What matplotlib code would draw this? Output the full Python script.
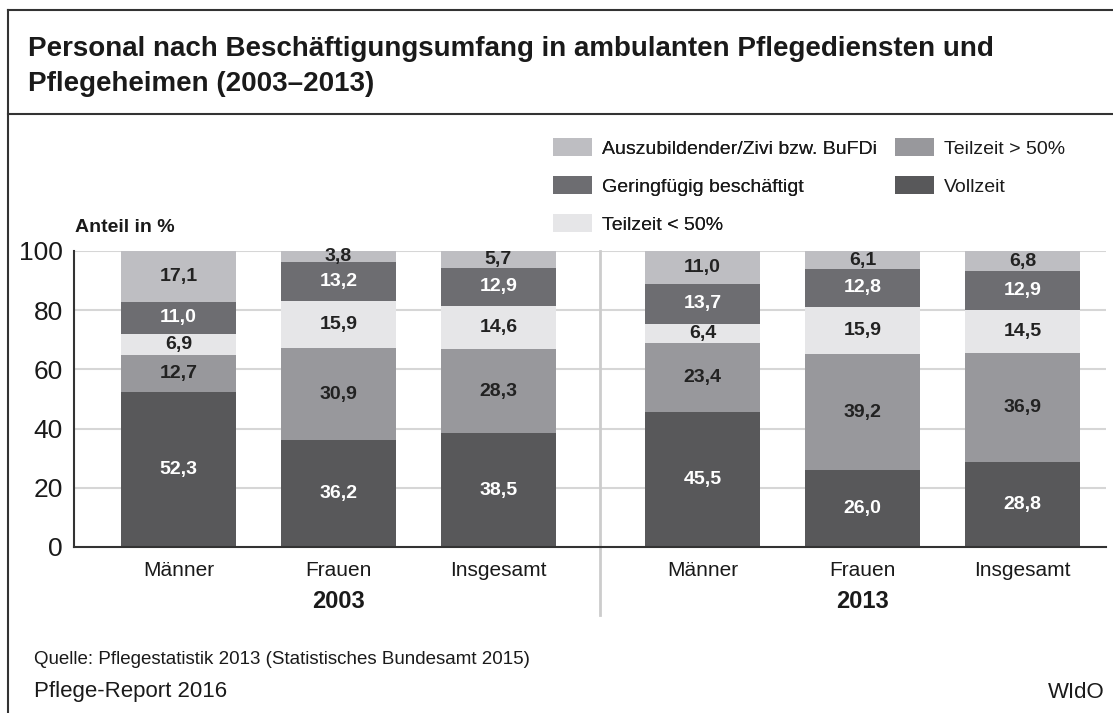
import numpy as np
import matplotlib
matplotlib.use("Agg")
import matplotlib.pyplot as plt
from matplotlib.lines import Line2D

plt.rcParams['font.family'] = ['Liberation Sans Narrow', 'Liberation Sans', 'DejaVu Sans']

# data (Anteil in %)
categories = ['Männer', 'Frauen', 'Insgesamt', 'Männer', 'Frauen', 'Insgesamt']
years = ['2003', '2013']
vollzeit = [52.3, 36.2, 38.5, 45.5, 26.0, 28.8]
teilzeit_gt50 = [12.7, 30.9, 28.3, 23.4, 39.2, 36.9]
teilzeit_lt50 = [6.9, 15.9, 14.6, 6.4, 15.9, 14.5]
geringfuegig = [11.0, 13.2, 12.9, 13.7, 12.8, 12.9]
auszubildende = [17.1, 3.8, 5.7, 11.0, 6.1, 6.8]

series_names = ['Vollzeit', 'Teilzeit > 50%', 'Teilzeit < 50%',
                'Geringfügig beschäftigt', 'Auszubildender/Zivi bzw. BuFDi']
series = [vollzeit, teilzeit_gt50, teilzeit_lt50, geringfuegig, auszubildende]
colors = ['#58585a', '#98989c', '#e6e6e8', '#6d6d71', '#bebec2']
label_colors = ['white', '#222222', '#222222', 'white', '#222222']

W, H = 1113, 713
fig = plt.figure(figsize=(W / 100, H / 100), dpi=100)


def px(x, y):
    # pixel position -> figure fraction
    return x / W, 1 - y / H


# outer frame and title separator
fig.add_artist(Line2D([8 / W, 8 / W], [0, 1 - 10 / H], color='#333333', lw=1.5))
fig.add_artist(Line2D([8 / W, 1], [1 - 10 / H, 1 - 10 / H], color='#333333', lw=1.5))
fig.add_artist(Line2D([8 / W, 1], [1 - 114 / H, 1 - 114 / H], color='#333333', lw=1.5))

fig.text(*px(28, 49), 'Personal nach Beschäftigungsumfang in ambulanten Pflegediensten und',
         fontsize=20, fontweight='bold', color='#1a1a1a', va='center')
fig.text(*px(28, 84), 'Pflegeheimen (2003–2013)',
         fontsize=20, fontweight='bold', color='#1a1a1a', va='center')

# bar positions: two groups of three with a wider gap
x = np.array([0, 1, 2, 3.275, 4.275, 5.275])
width = 0.72

ax = fig.add_axes([74 / W, 1 - 547 / H, 1032 / W, 296 / H])
ax.set_xlim(-0.653, 5.797)
ax.set_ylim(0, 100)
ax.set_yticks([0, 20, 40, 60, 80, 100])
for yv in [20, 40, 60, 80, 100]:
    ax.axhline(yv, color='#d6d6d6', lw=1.5, zorder=0)

bottom = np.zeros(len(x))
bars = []
for vals, name, c, lc in zip(series, series_names, colors, label_colors):
    vals = np.array(vals)
    b = ax.bar(x, vals, width, bottom=bottom, color=c, label=name, zorder=2)
    bars.append(b)
    for xi, bi, v in zip(x, bottom, vals):
        ax.text(xi, bi + v / 2, f'{v:.1f}'.replace('.', ','), ha='center', va='center',
                fontsize=14, fontweight='bold', color=lc, zorder=3)
    bottom += vals

for s in ['top', 'right']:
    ax.spines[s].set_visible(False)
ax.spines['left'].set_color('#333333')
ax.spines['bottom'].set_color('#333333')
ax.spines['left'].set_linewidth(1.5)
ax.spines['bottom'].set_linewidth(1.5)
ax.tick_params(axis='both', length=0)
ax.tick_params(axis='y', labelsize=19, pad=8, labelcolor='#1a1a1a')
ax.set_xticks(x)
ax.set_xticklabels(categories, fontsize=15, color='#1a1a1a')
ax.tick_params(axis='x', pad=10)

# separator between years
sep = (x[2] + x[3]) / 2
ax.axvline(sep, ymin=-0.23, ymax=1, color='#cccccc', lw=2, clip_on=False, zorder=1)

# year labels
for xc, yr in zip([x[1], x[4]], years):
    ax.text(xc, -18.5, yr, ha='center', va='center', fontsize=17, fontweight='bold',
            color='#1a1a1a', transform=ax.transData, clip_on=False)

fig.text(*px(75, 228), 'Anteil in %', fontsize=14, fontweight='bold', color='#1a1a1a', va='center')

# legend in two columns placed separately
leg_kw = dict(frameon=False, loc='upper left', fontsize=14, handlelength=2.0,
              handleheight=1.05, handletextpad=0.5, labelspacing=0.95,
              borderaxespad=0, borderpad=0, labelcolor='#1a1a1a')
col1 = [4, 3, 2]
col2 = [1, 0]
leg1 = fig.legend([bars[i] for i in col1], [series_names[i] for i in col1],
                  bbox_to_anchor=px(553, 138), **leg_kw)
fig.add_artist(leg1)
fig.legend([bars[i] for i in col2], [series_names[i] for i in col2],
           bbox_to_anchor=px(895, 138), **leg_kw)

fig.text(*px(34, 659), 'Quelle: Pflegestatistik 2013 (Statistisches Bundesamt 2015)',
         fontsize=13.5, color='#1a1a1a', va='center')
fig.text(*px(34, 692), 'Pflege-Report 2016', fontsize=16, color='#1a1a1a', va='center')
fig.text(*px(1105, 692), 'WIdO', fontsize=16, color='#1a1a1a', va='center', ha='right')

fig.savefig('out.png', dpi=100)
